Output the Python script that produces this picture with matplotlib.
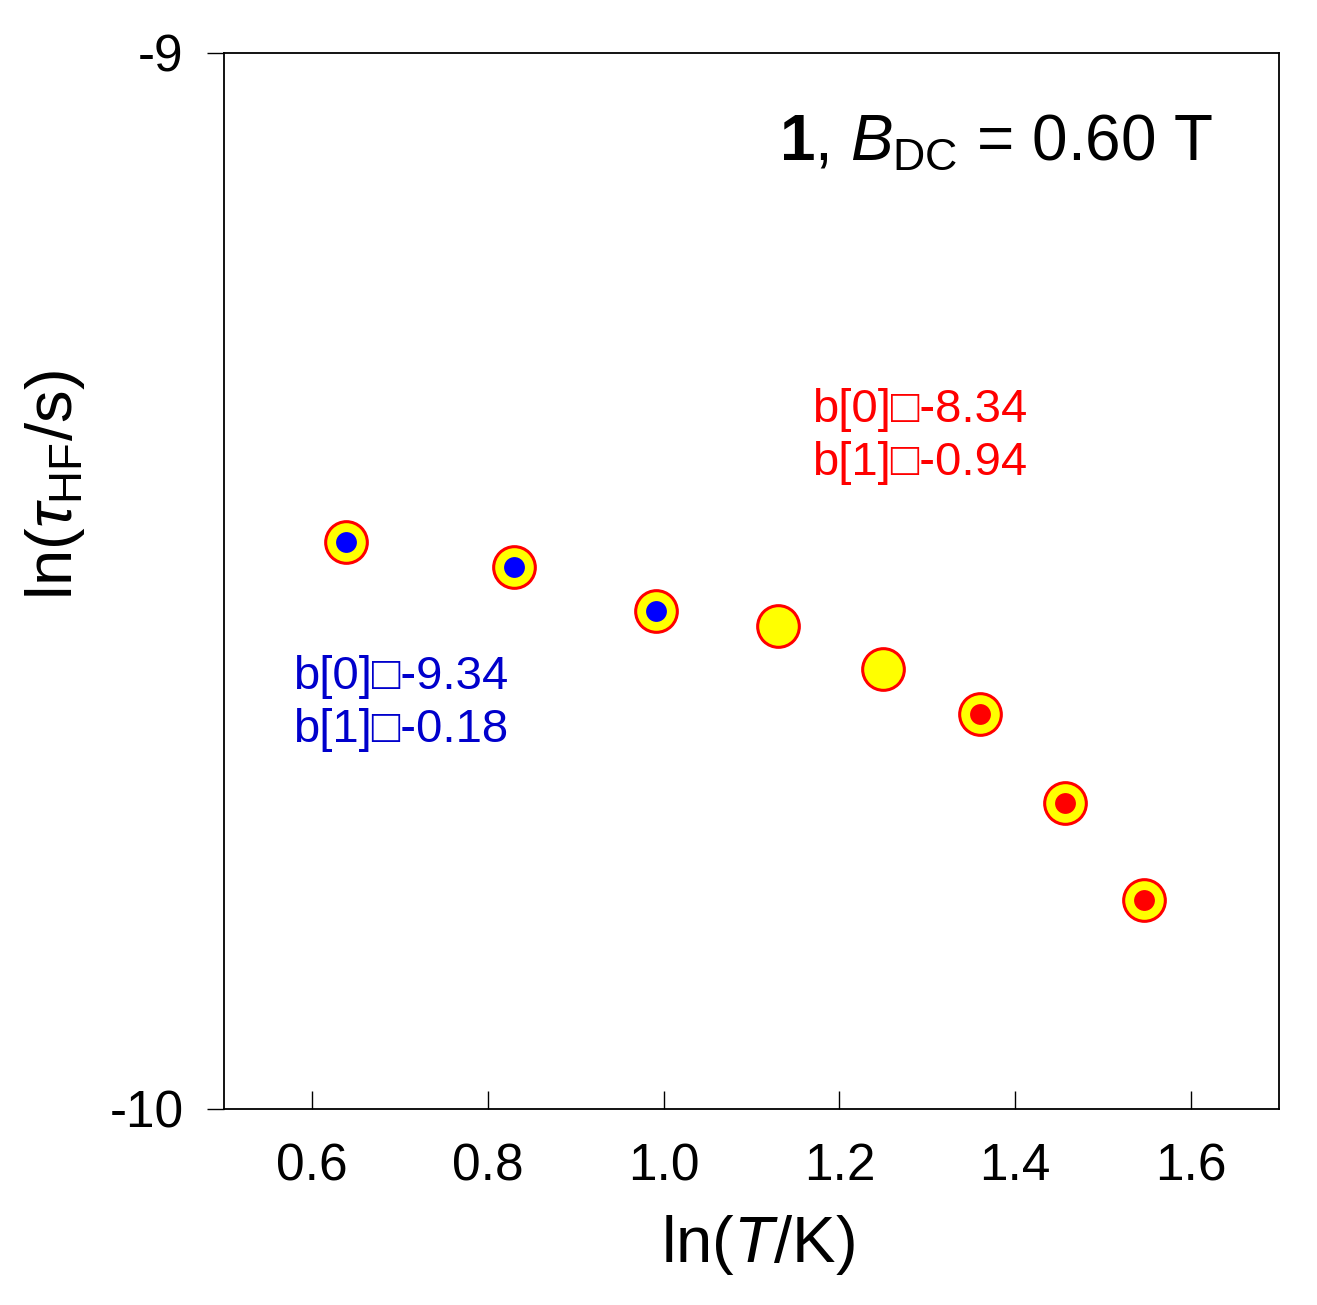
import numpy as np
import matplotlib
matplotlib.use("Agg")
from matplotlib import pyplot as plt

# ln(T/K) and ln(tau_HF/s)
ln_T = [0.639, 0.830, 0.991, 1.130, 1.250, 1.360, 1.457, 1.546]
ln_tau = [-9.463, -9.487, -9.528, -9.543, -9.583, -9.626, -9.710, -9.802]
# which fit each point belongs to (None = not fitted)
fit_group = ["low", "low", "low", None, None, "high", "high", "high"]

fit_low = ["b[0]\u25a1-9.34", "b[1]\u25a1-0.18"]
fit_high = ["b[0]\u25a1-8.34", "b[1]\u25a1-0.94"]

x_ticks = [0.6, 0.8, 1.0, 1.2, 1.4, 1.6]
y_ticks = [-10, -9]

plt.rcParams['font.family'] = ['Liberation Sans', 'DejaVu Sans']
plt.rcParams['mathtext.fontset'] = 'custom'
plt.rcParams['mathtext.rm'] = 'Liberation Sans'
plt.rcParams['mathtext.it'] = 'Liberation Sans:italic'
plt.rcParams['mathtext.bf'] = 'Liberation Sans:bold'

fig = plt.figure(figsize=(13.17, 13.05), dpi=100)
ax = fig.add_axes([0.1701, 0.1502, 0.9711 - 0.1701, 0.9594 - 0.1502])

# outer yellow circles with red rim
ax.plot(ln_T, ln_tau, linestyle='None', marker='o', markersize=30,
        markerfacecolor='yellow', markeredgecolor='red', markeredgewidth=2.2)

# inner dots showing the fit range
colors = {"low": "blue", "high": "red"}
for grp, col in colors.items():
    xs = [x for x, g in zip(ln_T, fit_group) if g == grp]
    ys = [y for y, g in zip(ln_tau, fit_group) if g == grp]
    ax.plot(xs, ys, linestyle='None', marker='o', markersize=15,
            markerfacecolor=col, markeredgewidth=0)

ax.set_xlim(0.5, 1.7)
ax.set_ylim(-10, -9)
ax.set_xticks(x_ticks)
ax.set_xticklabels(["%.1f" % v for v in x_ticks])
ax.set_yticks(y_ticks)
ax.set_yticklabels(["%d" % v for v in y_ticks])

ax.tick_params(axis='x', direction='in', length=13, width=1.0, pad=24,
               labelsize=37)
ax.tick_params(axis='y', direction='out', length=12, width=1.0, pad=17,
               labelsize=37)
for s in ax.spines.values():
    s.set_linewidth(1.3)

ax.set_xlabel(r"ln($T$/K)", fontsize=47, va='center')
ax.xaxis.set_label_coords(0.506, -0.129)
ax.set_ylabel(r"ln($\tau_{\mathrm{HF}}$/s)", fontsize=47, va='center')
ax.yaxis.set_label_coords(-0.16, 0.591)

ax.text(0.9375, 0.8987, r"$\mathbf{1}$, $B_{\mathrm{DC}}$ = 0.60 T",
        transform=ax.transAxes, ha='right', va='baseline', fontsize=46)

ax.text(0.557, 0.637, "\n".join(fit_high), transform=ax.transAxes,
        ha='left', va='center', fontsize=34, color='red', linespacing=1.25)
ax.text(0.0654, 0.384, "\n".join(fit_low), transform=ax.transAxes,
        ha='left', va='center', fontsize=34, color='#0000CC', linespacing=1.25)

fig.savefig("out.png", dpi=100)
